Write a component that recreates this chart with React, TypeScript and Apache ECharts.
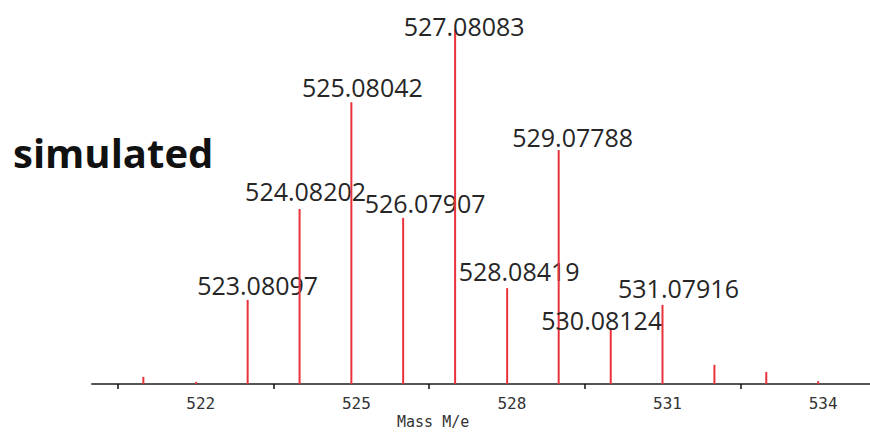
import React, { useEffect, useRef } from "react";
import * as echarts from "echarts";

// m/z of each stick and relative intensity (% of base peak)
const peakMz = [521.07, 522.09, 523.08097, 524.08202, 525.08042, 526.07907, 527.08083, 528.08419, 529.07788, 530.08124, 531.07916, 532.08, 533.08, 534.08];
const peakIntensity = [2.0, 0.6, 23.7, 49.3, 79.4, 46.8, 100, 27.0, 65.9, 15.8, 22.3, 5.4, 3.4, 0.8];
const peakLabels = ["", "", "523.08097", "524.08202", "525.08042", "526.07907", "527.08083", "528.08419", "529.07788", "530.08124", "531.07916", "", "", ""];

// axis labels and tick marks
const axisLabelValues = [522, 525, 528, 531, 534];
const axisTickValues = [520.5, 523.5, 526.5, 529.5, 532.5];
const axisName = "Mass M/e";
const titleText = "simulated";

// label placement nudges (styling only): horizontal shift and vertical gap
const labelDx = [0, 0, 10, 6, 11, 22, 9, 12, 14, -9, 16, 0, 0, 0];
const labelDy = [0, 0, 2, 5, 3, 2, -9, 5, 1, -5, 4, 0, 0, 0];

export default function App() {
  const ref = useRef<HTMLDivElement>(null);
  useEffect(() => {
    document.body.style.margin = "0";
    const chart = echarts.init(ref.current!, null, { renderer: "svg" });
    const data = peakMz.map((mz, i) => [mz, peakIntensity[i], i]);
    chart.setOption({
      animation: false,
      backgroundColor: "#ffffff",
      grid: { left: 92, right: 0, top: 29, bottom: 50 },
      xAxis: [
        {
          type: "value",
          min: 520,
          max: 535,
          splitLine: { show: false },
          axisLine: { show: true, lineStyle: { color: "#555555", width: 2 } },
          axisTick: {
            show: true,
            customValues: axisTickValues,
            length: 5,
            lineStyle: { color: "#111111", width: 1.5 },
          },
          axisLabel: {
            customValues: axisLabelValues,
            margin: 11,
            color: "#333333",
            fontFamily: "DejaVu Sans Mono",
            fontSize: 16,
            padding: [0, 0, 0, 10],
          },
        },
        { type: "value", min: 520.08, max: 535.08, show: false },
      ],
      yAxis: { type: "value", min: 0, max: 100, show: false },
      graphic: [
        {
          type: "text",
          left: 13,
          top: 132,
          style: {
            text: titleText,
            font: 'bold 40px "Open Sans"',
            fill: "#111111",
          },
        },
        {
          type: "text",
          left: 397,
          top: 414,
          style: {
            text: axisName,
            font: '15px "DejaVu Sans Mono"',
            fill: "#333333",
          },
        },
      ],
      series: [
        {
          type: "custom",
          xAxisIndex: 1,
          data,
          renderItem: (params: any, api: any) => {
            const x = api.value(0);
            const y = api.value(1);
            const idx = api.value(2);
            const top = api.coord([x, y]);
            const base = api.coord([x, 0]);
            const children: any[] = [
              {
                type: "line",
                shape: { x1: top[0], y1: top[1], x2: base[0], y2: base[1] },
                style: { stroke: "#e8333d", lineWidth: 2 },
              },
            ];
            const lbl = peakLabels[idx];
            if (lbl) {
              children.push({
                type: "text",
                style: {
                  text: lbl,
                  x: top[0] + labelDx[idx],
                  y: top[1] - labelDy[idx],
                  align: "center",
                  verticalAlign: "bottom",
                  font: '25px "Open Sans"',
                  fill: "#262626",
                },
              });
            }
            return { type: "group", children };
          },
        },
      ],
    });
    return () => chart.dispose();
  }, []);
  return <div ref={ref} style={{ width: 870, height: 434 }} />;
}
